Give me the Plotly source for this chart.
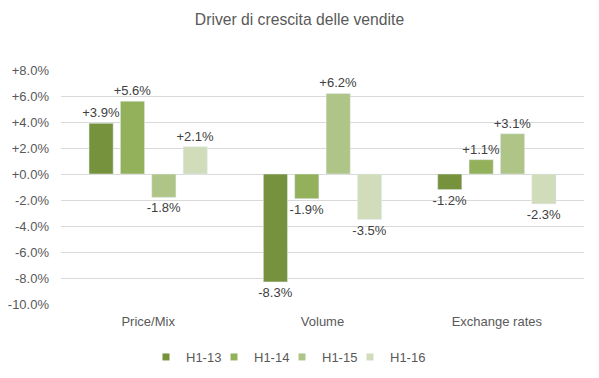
import plotly.graph_objects as go

categories = ["Price/Mix", "Volume", "Exchange rates"]
series_names = ["H1-13", "H1-14", "H1-15", "H1-16"]
h1_13 = [3.9, -8.3, -1.2]
h1_14 = [5.6, -1.9, 1.1]
h1_15 = [-1.8, 6.2, 3.1]
h1_16 = [2.1, -3.5, -2.3]
colors = ["#77923C", "#93B05A", "#AFC587", "#D0DCBA"]
tick_vals = [8, 6, 4, 2, 0, -2, -4, -6, -8, -10]
tick_text = ["+8.0%", "+6.0%", "+4.0%", "+2.0%", "+0.0%", "-2.0%", "-4.0%", "-6.0%", "-8.0%", "-10.0%"]

W, H = 599, 378
legend_ids = ["legend", "legend2", "legend3", "legend4"]
legend_left_px = [146, 214, 282, 350]

fig = go.Figure()
for name, vals, col in zip(series_names, [h1_13, h1_14, h1_15, h1_16], colors):
    fig.add_trace(go.Bar(
        x=categories, y=vals, name=name, marker_color=col, legendgroup=name, showlegend=False,
        text=[("+" if v > 0 else "") + f"{v:.1f}%" for v in vals],
        textposition="outside", constraintext="none", cliponaxis=False,
        textfont=dict(family="Liberation Sans, Arial, sans-serif", size=13, color="#404040"),
    ))
# legend proxies (small square swatches like the reference)
for name, col, lid in zip(series_names, colors, legend_ids):
    fig.add_trace(go.Scatter(
        x=[None], y=[None], mode="markers", name=name, legendgroup=name, legend=lid,
        marker=dict(symbol="square", size=7, color=col),
    ))

legend_common = dict(orientation="h", xanchor="left", xref="container",
                     y=1 - 357 / H, yanchor="middle", yref="container", borderwidth=0,
                     bgcolor="rgba(0,0,0,0)",
                     font=dict(family="Liberation Sans, Arial, sans-serif", size=13, color="#595959"),
                     itemwidth=30)
legend_layout = {lid: dict(x=px / W, **legend_common) for lid, px in zip(legend_ids, legend_left_px)}

fig.update_layout(
    width=W, height=H,
    margin=dict(l=61, r=15, t=70, b=74, autoexpand=False),
    paper_bgcolor="white", plot_bgcolor="white",
    barmode="group", bargap=0.28, bargroupgap=0.23,
    title=dict(text="Driver di crescita delle vendite", x=0.5, xanchor="center", y=1 - 20 / H, yanchor="middle",
               font=dict(family="Liberation Sans, Arial, sans-serif", size=15.7, color="#595959")),
    font=dict(family="Liberation Sans, Arial, sans-serif", size=12, color="#595959"),
    showlegend=True,
    xaxis=dict(showline=False, ticks="", tickfont=dict(size=13, color="#595959"), showgrid=False,
               automargin=False, ticklabelstandoff=8),
    yaxis=dict(range=[-10, 8], tickvals=tick_vals, ticktext=tick_text, showgrid=True, automargin=False,
               gridcolor="#D9D9D9", gridwidth=1, zeroline=True, zerolinecolor="#D9D9D9", zerolinewidth=1,
               tickfont=dict(size=13, color="#595959"), ticks="", ticklabelstandoff=11),
    **legend_layout,
)

fig.write_html("out.html", config={"displayModeBar": False},
               post_script="document.body.style.margin='0';document.body.style.overflow='hidden';")
